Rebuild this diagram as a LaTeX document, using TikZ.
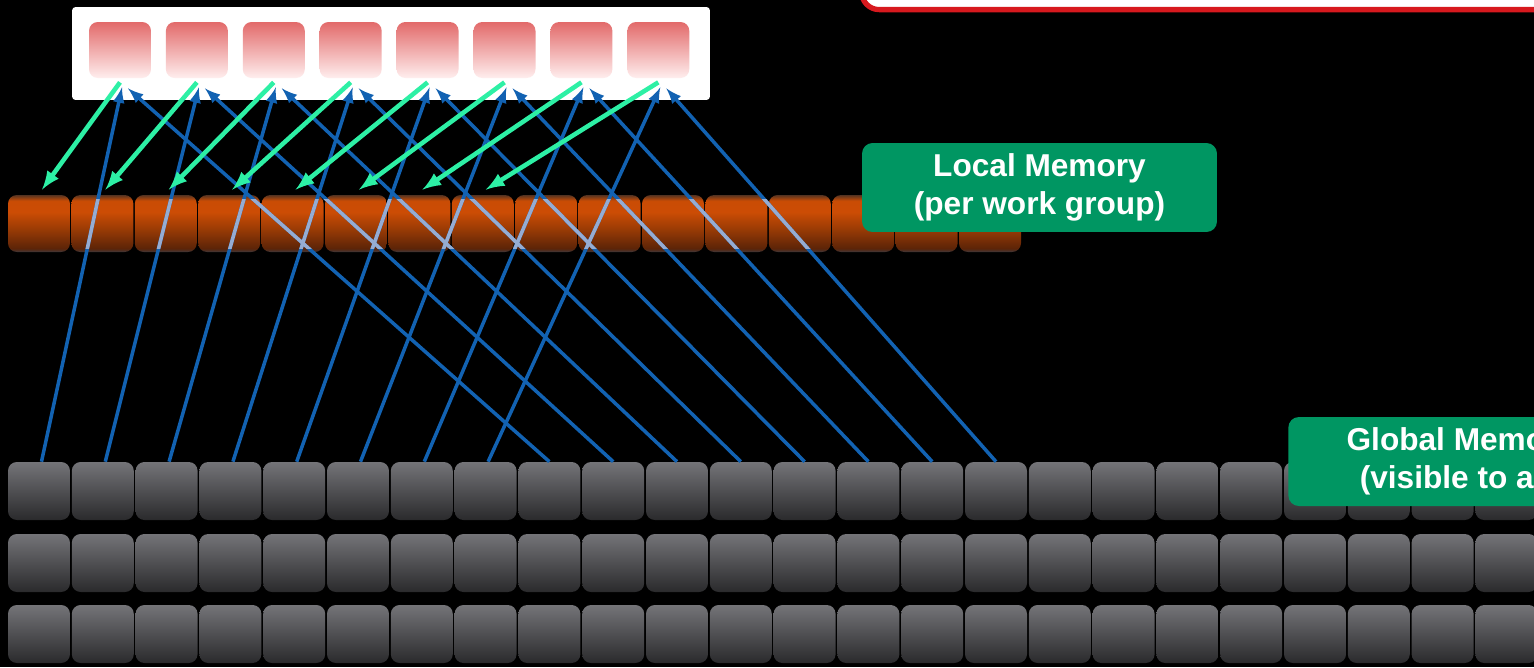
\documentclass[tikz,border=0pt]{standalone}
\usepackage{fontspec}
\setmainfont{Liberation Sans}

\definecolor{privtop}{RGB}{226,106,106}
\definecolor{privbot}{RGB}{255,238,238}
\definecolor{globtop}{RGB}{116,116,120}
\definecolor{globbot}{RGB}{42,42,44}
\definecolor{memblue}{RGB}{18,98,178}
\definecolor{paleblue}{RGB}{150,172,210}
\definecolor{memgreen}{RGB}{45,240,165}
\definecolor{labelgreen}{RGB}{0,150,98}
\definecolor{calloutred}{RGB}{215,25,30}

% glossy orange for the local cells (dark rim, bright top, dimmer bottom)
\pgfdeclareverticalshading{loc_shade}{100bp}{%
  rgb(0bp)=(0.24,0.22,0.24); rgb(25bp)=(0.24,0.22,0.24);
  rgb(28bp)=(0.36,0.14,0.03); rgb(45bp)=(0.6,0.23,0.02);
  rgb(60bp)=(0.8,0.3,0.02); rgb(70bp)=(0.79,0.3,0.02);
  rgb(75bp)=(0.33,0.2,0.13); rgb(100bp)=(0.33,0.2,0.13)}

\begin{document}
\begin{tikzpicture}[x=0.02cm, y=-0.02cm]
    \tikzstyle{priv_cell}=[rounded corners=5pt, inner sep=0pt, minimum width=1.24cm, minimum height=1.12cm, top color=privtop, bottom color=privbot]
    \tikzstyle{loc_cell}=[rounded corners=5pt, inner sep=0pt, minimum width=1.24cm, minimum height=1.14cm, shading=loc_shade]
    \tikzstyle{glob_cell}=[rounded corners=5pt, inner sep=0pt, minimum width=1.24cm, minimum height=1.16cm, top color=globtop, bottom color=globbot]
    \tikzstyle{read_edge}=[line width=2pt, memblue, -latex]
    \tikzstyle{copy_edge}=[line width=2.6pt, memgreen, -latex]
    \tikzstyle{mem_label}=[fill=labelgreen, rounded corners=6pt, text=white, align=center,
      font=\bfseries\fontsize{18}{21.5}\selectfont, minimum width=7.1cm, minimum height=1.78cm]

    \useasboundingbox (0,0) rectangle (1534,667);
    \clip (0,0) rectangle (1534,667);
    \fill[black] (0,0) rectangle (1534,667);

    % --- private memory (one cell per work item) ---
    \node[fill=white, rounded corners=2pt, minimum width=12.76cm, minimum height=1.86cm] (priv_box) at (391,53.5) {};
    \foreach \i in {1,...,8}
      \node[priv_cell] (priv_\i) at ({120+76.9*(\i-1)},50) {};

    % --- local memory ---
    \foreach \j in {1,...,16}
      \node[loc_cell] (loc_\j) at ({39+63.4*(\j-1)},223.5) {};

    % --- global memory, three rows ---
    \foreach \r/\y in {1/491, 2/563, 3/634}
      \foreach \c in {1,...,24}
        \node[glob_cell] (glob_\r_\c) at ({39+63.8*(\c-1)},\y) {};

    % reads from global into private
    \foreach \i [evaluate=\i as \k using int(\i+8)] in {1,...,8} {
      \draw[read_edge] ([xshift=0.05cm]glob_1_\i.north) -- ([xshift=0.04cm, yshift=-0.18cm]priv_\i.south);
      \draw[read_edge] (glob_1_\k.north) -- ([xshift=0.16cm, yshift=-0.2cm]priv_\i.south);
    }
    % lines seen through the local row
    \begin{scope}
      \clip (0,199) rectangle (1100,248);
      \foreach \i [evaluate=\i as \k using int(\i+8)] in {1,...,8} {
        \draw[line width=2pt, paleblue] ([xshift=0.05cm]glob_1_\i.north) -- ([xshift=0.04cm, yshift=-0.18cm]priv_\i.south);
        \draw[line width=2pt, paleblue] (glob_1_\k.north) -- ([xshift=0.16cm, yshift=-0.2cm]priv_\i.south);
      }
    \end{scope}

    % copies from private into local
    \foreach \i in {1,...,8}
      \draw[copy_edge] ([yshift=-0.08cm]priv_\i.south) -- ([xshift=0.06cm, yshift=0.1cm]loc_\i.north);

    % --- labels ---
    \node[mem_label] (loc_label) at (1039.5,187.5) {Local Memory\\(per work group)};
    \node[mem_label, anchor=west, minimum width=6.9cm] (glob_label) at (1288,461.5) {Global Memory\\(visible to all)};

    % callout box at the top
    \node[draw=calloutred, line width=3pt, fill=white, rounded corners=10pt, anchor=north west,
      minimum width=15cm, minimum height=2cm] (callout) at (859,-93) {};
\end{tikzpicture}
\end{document}
